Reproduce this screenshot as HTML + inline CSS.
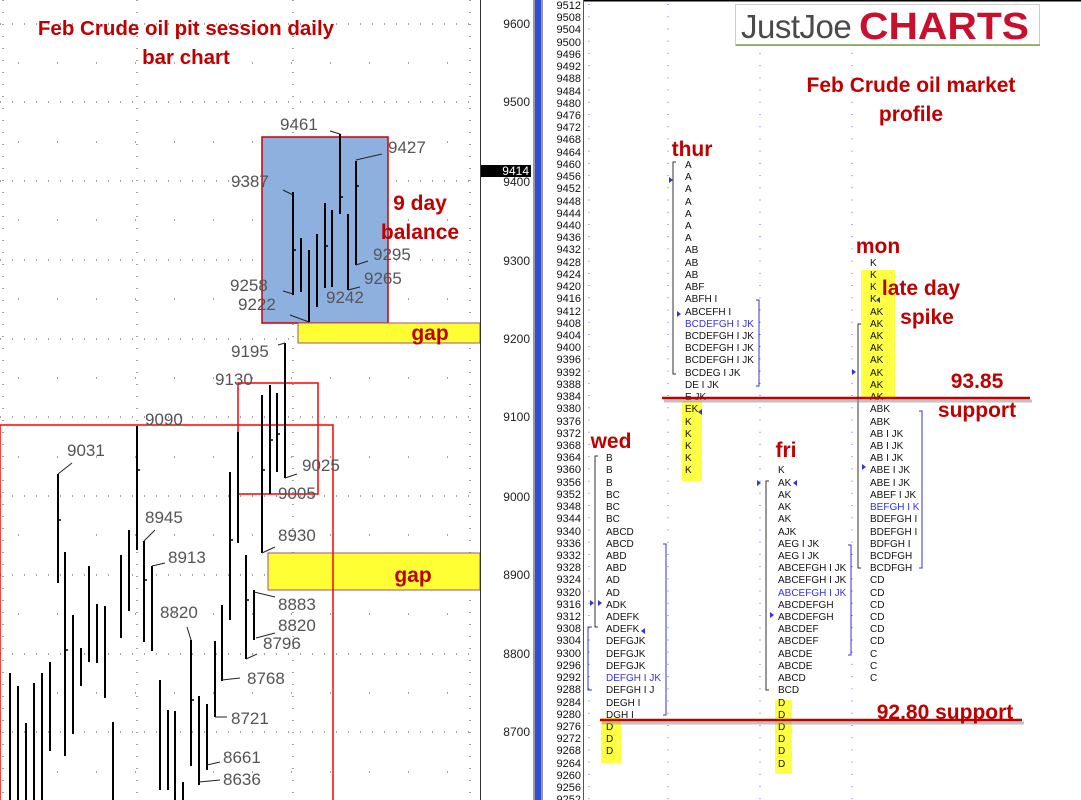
<!DOCTYPE html>
<html><head><meta charset="utf-8"><style>
html,body{margin:0;padding:0;background:#fff;}
svg{display:block;}
.t{font-family:"Liberation Sans",sans-serif;}
.pl{font-family:"Liberation Sans",sans-serif;font-size:11px;fill:#111;text-anchor:end;}
.pr{font-family:"Liberation Sans",sans-serif;font-size:10px;fill:#111;}
.bl{fill:#3333dd;}
.lb{font-family:"Liberation Sans",sans-serif;font-size:17px;fill:#555;}
.rd{font-family:"Liberation Sans",sans-serif;font-weight:bold;fill:#c00000;}
.ax{font-family:"Liberation Sans",sans-serif;font-size:12px;fill:#222;text-anchor:end;}
</style></head><body>
<svg width="1081" height="800" viewBox="0 0 1081 800" xmlns="http://www.w3.org/2000/svg">
<rect width="1081" height="800" fill="#fff"/>
<g stroke="#444" stroke-width="1" stroke-dasharray="1,11">
<line x1="0" y1="24" x2="478" y2="24"/><line x1="0" y1="102" x2="478" y2="102"/><line x1="0" y1="181" x2="478" y2="181"/><line x1="0" y1="260" x2="478" y2="260"/><line x1="0" y1="339" x2="478" y2="339"/><line x1="0" y1="417" x2="478" y2="417"/><line x1="0" y1="496" x2="478" y2="496"/><line x1="0" y1="575" x2="478" y2="575"/><line x1="0" y1="654" x2="478" y2="654"/><line x1="0" y1="732" x2="478" y2="732"/>
<line x1="3" y1="0" x2="3" y2="800"/><line x1="137" y1="0" x2="137" y2="800"/><line x1="293" y1="0" x2="293" y2="800"/><line x1="470" y1="0" x2="470" y2="800"/>
</g>
<g stroke="#444" stroke-width="1" stroke-dasharray="1,38">
<line x1="18" y1="63" x2="478" y2="63"/><line x1="18" y1="142" x2="478" y2="142"/><line x1="18" y1="220" x2="478" y2="220"/><line x1="18" y1="299" x2="478" y2="299"/><line x1="18" y1="378" x2="478" y2="378"/><line x1="18" y1="457" x2="478" y2="457"/><line x1="18" y1="535" x2="478" y2="535"/><line x1="18" y1="614" x2="478" y2="614"/><line x1="18" y1="693" x2="478" y2="693"/><line x1="18" y1="772" x2="478" y2="772"/>
</g>
<rect x="262" y="137" width="126" height="186" fill="#8eb0df" stroke="#c00" stroke-width="1.5"/>
<rect x="298" y="323" width="182" height="20" fill="#ffff33" stroke="#a05080" stroke-width="1"/>
<rect x="268" y="553" width="212" height="37" fill="#ffff33" stroke="#a05080" stroke-width="1"/>
<rect x="0" y="425" width="333" height="380" fill="none" stroke="#f00" stroke-width="1.5"/>
<rect x="238" y="383" width="80" height="111" fill="none" stroke="#f00" stroke-width="1.5"/>
<g stroke="#000" stroke-width="2">
<line x1="10" y1="673" x2="10" y2="800"/><line x1="18" y1="686" x2="18" y2="800"/><line x1="26" y1="723" x2="26" y2="800"/><line x1="34" y1="683" x2="34" y2="800"/><line x1="42" y1="673" x2="42" y2="800"/><line x1="50" y1="662" x2="50" y2="751"/><line x1="58" y1="474" x2="58" y2="583"/><line x1="65" y1="552" x2="65" y2="756"/><line x1="73" y1="615" x2="73" y2="734"/><line x1="81" y1="648" x2="81" y2="686"/><line x1="89" y1="566" x2="89" y2="662"/><line x1="97" y1="604" x2="97" y2="663"/><line x1="105" y1="606" x2="105" y2="698"/><line x1="113" y1="722" x2="113" y2="800"/><line x1="121" y1="555" x2="121" y2="638"/><line x1="129" y1="530" x2="129" y2="611"/><line x1="137" y1="426" x2="137" y2="550"/><line x1="144" y1="541" x2="144" y2="642"/><line x1="152" y1="566" x2="152" y2="651"/><line x1="160" y1="680" x2="160" y2="790"/><line x1="168" y1="710" x2="168" y2="790"/><line x1="175" y1="711" x2="175" y2="800"/><line x1="183" y1="782" x2="183" y2="800"/><line x1="191" y1="640" x2="191" y2="766"/><line x1="199" y1="696" x2="199" y2="785"/><line x1="207" y1="704" x2="207" y2="770"/><line x1="215" y1="641" x2="215" y2="717"/><line x1="222" y1="605" x2="222" y2="681"/><line x1="230" y1="472" x2="230" y2="620"/><line x1="238" y1="432" x2="238" y2="543"/><line x1="246" y1="555" x2="246" y2="659"/><line x1="254" y1="590" x2="254" y2="640"/><line x1="262" y1="395" x2="262" y2="553"/><line x1="270" y1="385" x2="270" y2="494"/><line x1="277" y1="393" x2="277" y2="472"/><line x1="285" y1="343" x2="285" y2="478"/>
<line x1="293" y1="192" x2="293" y2="295"/><line x1="301" y1="238" x2="301" y2="292"/><line x1="309" y1="250" x2="309" y2="322"/><line x1="317" y1="234" x2="317" y2="307"/><line x1="325" y1="203" x2="325" y2="288"/><line x1="332" y1="210" x2="332" y2="287"/><line x1="340" y1="134" x2="340" y2="214"/><line x1="348" y1="214" x2="348" y2="290"/><line x1="356" y1="161" x2="356" y2="265"/>
</g>
<g stroke="#000" stroke-width="1.5">
<line x1="58" y1="520" x2="61" y2="520"/><line x1="65" y1="650" x2="68" y2="650"/><line x1="137" y1="470" x2="140" y2="470"/><line x1="144" y1="580" x2="147" y2="580"/><line x1="191" y1="700" x2="194" y2="700"/><line x1="230" y1="540" x2="233" y2="540"/><line x1="246" y1="600" x2="249" y2="600"/><line x1="262" y1="470" x2="265" y2="470"/><line x1="270" y1="440" x2="273" y2="440"/><line x1="277" y1="434" x2="280" y2="434"/><line x1="293" y1="250" x2="296" y2="250"/><line x1="325" y1="246" x2="328" y2="246"/><line x1="340" y1="197" x2="343" y2="197"/><line x1="356" y1="186" x2="359" y2="186"/>
</g>
<g stroke="#222" stroke-width="1" fill="none">
<line x1="58" y1="474" x2="72" y2="463"/><line x1="144" y1="541" x2="155" y2="530"/><line x1="152" y1="566" x2="165" y2="563"/><line x1="191" y1="640" x2="187" y2="627"/><line x1="215" y1="717" x2="227" y2="717"/><line x1="222" y1="680" x2="240" y2="678"/><line x1="207" y1="765" x2="220" y2="762"/><line x1="199" y1="782" x2="220" y2="780"/><line x1="246" y1="659" x2="257" y2="654"/><line x1="254" y1="592" x2="275" y2="597"/><line x1="256" y1="638" x2="275" y2="633"/><line x1="262" y1="553" x2="275" y2="547"/><line x1="285" y1="478" x2="297" y2="474"/><line x1="293" y1="195" x2="283" y2="190"/><line x1="293" y1="294" x2="283" y2="291"/><line x1="309" y1="322" x2="290" y2="315"/><line x1="340" y1="134" x2="330" y2="131"/><line x1="356" y1="160" x2="382" y2="154"/><line x1="356" y1="265" x2="368" y2="261"/><line x1="348" y1="290" x2="360" y2="287"/><line x1="285" y1="343" x2="278" y2="345"/>
</g>
<g class="lb">
<text x="280" y="130">9461</text><text x="388" y="153">9427</text><text x="231" y="187">9387</text><text x="230" y="291">9258</text><text x="238" y="310">9222</text><text x="373" y="260">9295</text><text x="364" y="284">9265</text><text x="326" y="303">9242</text><text x="231" y="357">9195</text><text x="215" y="385">9130</text><text x="145" y="425">9090</text><text x="67" y="456">9031</text><text x="302" y="471">9025</text><text x="278" y="499">9005</text><text x="145" y="523">8945</text><text x="168" y="563">8913</text><text x="278" y="541">8930</text><text x="278" y="610">8883</text><text x="278" y="631">8820</text><text x="263" y="649">8796</text><text x="160" y="618">8820</text><text x="247" y="684">8768</text><text x="231" y="724">8721</text><text x="223" y="763">8661</text><text x="223" y="785">8636</text>
</g>
<text class="rd" x="186" y="35" font-size="20.5" text-anchor="middle">Feb Crude oil pit session daily</text>
<text class="rd" x="186" y="64" font-size="20.5" text-anchor="middle">bar chart</text>
<text class="rd" x="420" y="210" font-size="21" text-anchor="middle">9 day</text>
<text class="rd" x="420" y="239" font-size="21" text-anchor="middle">balance</text>
<text class="rd" x="430" y="340" font-size="21" text-anchor="middle">gap</text>
<text class="rd" x="413" y="582" font-size="21" text-anchor="middle">gap</text>
<line x1="480.5" y1="0" x2="480.5" y2="800" stroke="#333" stroke-width="1"/>
<g class="ax"><text x="530" y="28">9600</text><text x="530" y="106">9500</text><text x="530" y="186">9400</text><text x="530" y="265">9300</text><text x="530" y="343">9200</text><text x="530" y="421">9100</text><text x="530" y="501">9000</text><text x="530" y="579">8900</text><text x="530" y="658">8800</text><text x="530" y="736">8700</text></g>
<rect x="481" y="165" width="50" height="12" fill="#000"/>
<text x="529" y="175" class="ax" style="fill:#fff">9414</text>
<rect x="533" y="0" width="10" height="800" fill="#999"/>
<rect x="535" y="0" width="6" height="800" fill="#2b4fd8"/>
<line x1="583.5" y1="0" x2="583.5" y2="800" stroke="#555" stroke-width="1"/>
<line x1="584" y1="0.5" x2="1081" y2="0.5" stroke="#000" stroke-width="2"/>
<g stroke="#5566ee" stroke-width="1" stroke-dasharray="1,11.22" stroke-dashoffset="-4">
<line x1="589" y1="0" x2="589" y2="800"/><line x1="668" y1="0" x2="668" y2="800"/><line x1="760" y1="0" x2="760" y2="800"/><line x1="852" y1="0" x2="852" y2="800"/>
</g>
<g class="pl">
<text x="581" y="9">9512</text><text x="581" y="21">9508</text><text x="581" y="33">9504</text><text x="581" y="46">9500</text><text x="581" y="58">9496</text><text x="581" y="70">9492</text><text x="581" y="82">9488</text><text x="581" y="95">9484</text><text x="581" y="107">9480</text><text x="581" y="119">9476</text><text x="581" y="131">9472</text><text x="581" y="143">9468</text><text x="581" y="156">9464</text><text x="581" y="168">9460</text><text x="581" y="180">9456</text><text x="581" y="192">9452</text><text x="581" y="205">9448</text><text x="581" y="217">9444</text><text x="581" y="229">9440</text><text x="581" y="241">9436</text><text x="581" y="253">9432</text><text x="581" y="266">9428</text><text x="581" y="278">9424</text><text x="581" y="290">9420</text><text x="581" y="302">9416</text><text x="581" y="315">9412</text><text x="581" y="327">9408</text><text x="581" y="339">9404</text><text x="581" y="351">9400</text><text x="581" y="363">9396</text><text x="581" y="376">9392</text><text x="581" y="388">9388</text><text x="581" y="400">9384</text><text x="581" y="412">9380</text><text x="581" y="425">9376</text><text x="581" y="437">9372</text><text x="581" y="449">9368</text><text x="581" y="461">9364</text><text x="581" y="473">9360</text><text x="581" y="486">9356</text><text x="581" y="498">9352</text><text x="581" y="510">9348</text><text x="581" y="522">9344</text><text x="581" y="535">9340</text><text x="581" y="547">9336</text><text x="581" y="559">9332</text><text x="581" y="571">9328</text><text x="581" y="583">9324</text><text x="581" y="596">9320</text><text x="581" y="608">9316</text><text x="581" y="620">9312</text><text x="581" y="632">9308</text><text x="581" y="644">9304</text><text x="581" y="657">9300</text><text x="581" y="669">9296</text><text x="581" y="681">9292</text><text x="581" y="693">9288</text><text x="581" y="706">9284</text><text x="581" y="718">9280</text><text x="581" y="730">9276</text><text x="581" y="742">9272</text><text x="581" y="754">9268</text><text x="581" y="767">9264</text><text x="581" y="779">9260</text><text x="581" y="791">9256</text><text x="581" y="803">9252</text>
</g>
<rect x="682" y="401" width="20" height="80" fill="#ffff44"/>
<rect x="861" y="270" width="34" height="128" fill="#ffff44"/>
<rect x="601" y="718" width="20" height="45" fill="#ffff44"/>
<rect x="775" y="700" width="17" height="73" fill="#ffff44"/>
<g fill="none" stroke-width="1">
<path d="M676 162 H673 V374 H676" stroke="#333"/>
<path d="M756 300 H759 V386 H756" stroke="#33d"/>
<path d="M598 456 H595 V627 H598" stroke="#333"/>
<path d="M592 627 H588 V690 H592" stroke="#33d"/>
<path d="M663 544 H666 V715 H663" stroke="#33d"/>
<path d="M769 481 H766 V690 H769" stroke="#333"/>
<path d="M848 545 H851 V655 H848" stroke="#33d"/>
<path d="M861 324 H858 V568 H861" stroke="#333"/>
<path d="M919 411 H922 V568 H919" stroke="#33d"/>
</g>
<g class="bl">
<polygon points="669,177 673,180 669,183"/><polygon points="677,311 681,314 677,317"/><polygon points="590,600 594,603 590,606"/><polygon points="598,600 602,603 598,606"/><polygon points="757,480 761,483 757,486"/><polygon points="770,612 774,615 770,618"/><polygon points="852,369 856,372 852,375"/><polygon points="862,464 866,467 862,470"/><polygon points="702,409 698,412 702,415"/><polygon points="645,628 641,631 645,634"/><polygon points="797,480 793,483 797,486"/><polygon points="880,297 876,300 880,303"/>
</g>
<g class="pr">
<text x="685" y="168">A</text><text x="685" y="180">A</text><text x="685" y="192">A</text><text x="685" y="205">A</text><text x="685" y="217">A</text><text x="685" y="229">A</text><text x="685" y="241">A</text><text x="685" y="253">AB</text><text x="685" y="266">AB</text><text x="685" y="278">AB</text><text x="685" y="290">ABF</text><text x="685" y="302">ABFH I</text><text x="685" y="315">ABCEFH I</text><text x="685" y="327" class="bl">BCDEFGH I JK</text><text x="685" y="339">BCDEFGH I JK</text><text x="685" y="351">BCDEFGH I JK</text><text x="685" y="363">BCDEFGH I JK</text><text x="685" y="376">BCDEG I JK</text><text x="685" y="388">DE I JK</text><text x="685" y="400">E JK</text><text x="685" y="412">EK</text><text x="685" y="425">K</text><text x="685" y="437">K</text><text x="685" y="449">K</text><text x="685" y="461">K</text><text x="685" y="473">K</text>
</g>
<g class="pr">
<text x="606" y="461">B</text><text x="606" y="473">B</text><text x="606" y="486">B</text><text x="606" y="498">BC</text><text x="606" y="510">BC</text><text x="606" y="522">BC</text><text x="606" y="535">ABCD</text><text x="606" y="547">ABCD</text><text x="606" y="559">ABD</text><text x="606" y="571">ABD</text><text x="606" y="583">AD</text><text x="606" y="596">AD</text><text x="606" y="608">ADK</text><text x="606" y="620">ADEFK</text><text x="606" y="632">ADEFK</text><text x="606" y="644">DEFGJK</text><text x="606" y="657">DEFGJK</text><text x="606" y="669">DEFGJK</text><text x="606" y="681" class="bl">DEFGH I JK</text><text x="606" y="693">DEFGH I J</text><text x="606" y="706">DEGH I</text><text x="606" y="718">DGH I</text><text x="606" y="730">D</text><text x="606" y="742">D</text><text x="606" y="754">D</text>
</g>
<g class="pr">
<text x="778" y="473">K</text><text x="778" y="486">AK</text><text x="778" y="498">AK</text><text x="778" y="510">AK</text><text x="778" y="522">AK</text><text x="778" y="535">AJK</text><text x="778" y="547">AEG I JK</text><text x="778" y="559">AEG I JK</text><text x="778" y="571">ABCEFGH I JK</text><text x="778" y="583">ABCEFGH I JK</text><text x="778" y="596" class="bl">ABCEFGH I JK</text><text x="778" y="608">ABCDEFGH</text><text x="778" y="620">ABCDEFGH</text><text x="778" y="632">ABCDEF</text><text x="778" y="644">ABCDEF</text><text x="778" y="657">ABCDE</text><text x="778" y="669">ABCDE</text><text x="778" y="681">ABCD</text><text x="778" y="693">BCD</text><text x="778" y="706">D</text><text x="778" y="718">D</text><text x="778" y="730">D</text><text x="778" y="742">D</text><text x="778" y="754">D</text><text x="778" y="767">D</text>
</g>
<g class="pr">
<text x="870" y="266">K</text><text x="870" y="278">K</text><text x="870" y="290">K</text><text x="870" y="302">K</text><text x="870" y="315">AK</text><text x="870" y="327">AK</text><text x="870" y="339">AK</text><text x="870" y="351">AK</text><text x="870" y="363">AK</text><text x="870" y="376">AK</text><text x="870" y="388">AK</text><text x="870" y="400">AK</text><text x="870" y="412">ABK</text><text x="870" y="425">ABK</text><text x="870" y="437">AB I JK</text><text x="870" y="449">AB I JK</text><text x="870" y="461">AB I JK</text><text x="870" y="473">ABE I JK</text><text x="870" y="486">ABE I JK</text><text x="870" y="498">ABEF I JK</text><text x="870" y="510" class="bl">BEFGH I K</text><text x="870" y="522">BDEFGH I</text><text x="870" y="535">BDEFGH I</text><text x="870" y="547">BDFGH I</text><text x="870" y="559">BCDFGH</text><text x="870" y="571">BCDFGH</text><text x="870" y="583">CD</text><text x="870" y="596">CD</text><text x="870" y="608">CD</text><text x="870" y="620">CD</text><text x="870" y="632">CD</text><text x="870" y="644">CD</text><text x="870" y="657">C</text><text x="870" y="669">C</text><text x="870" y="681">C</text>
</g>
<line x1="664" y1="401" x2="1032" y2="401" stroke="#999" stroke-width="3" opacity="0.6"/>
<line x1="662" y1="398" x2="1030" y2="398" stroke="#c00000" stroke-width="2.5"/>
<line x1="602" y1="723" x2="1024" y2="723" stroke="#999" stroke-width="3" opacity="0.6"/>
<line x1="600" y1="720" x2="1022" y2="720" stroke="#c00000" stroke-width="2.5"/>
<text class="rd" x="977" y="388" font-size="21" text-anchor="middle">93.85</text>
<text class="rd" x="977" y="417" font-size="21" text-anchor="middle">support</text>
<text class="rd" x="945" y="719" font-size="21" text-anchor="middle">92.80 support</text>
<text class="rd" x="611" y="448" font-size="21" text-anchor="middle">wed</text>
<text class="rd" x="692" y="156" font-size="21" text-anchor="middle">thur</text>
<text class="rd" x="786" y="457" font-size="21" text-anchor="middle">fri</text>
<text class="rd" x="878" y="253" font-size="21" text-anchor="middle">mon</text>
<text class="rd" x="921" y="295" font-size="21" text-anchor="middle">late day</text>
<text class="rd" x="927" y="324" font-size="21" text-anchor="middle">spike</text>
<text class="rd" x="911" y="92" font-size="21" text-anchor="middle">Feb Crude oil market</text>
<text class="rd" x="911" y="121" font-size="21" text-anchor="middle">profile</text>
<rect x="735.5" y="4.5" width="304" height="41" fill="#fff" stroke="#ccc" stroke-width="1"/>
<line x1="736" y1="45" x2="1040" y2="45" stroke="#7aa050" stroke-width="1.5"/>
<text x="741" y="38" class="t" font-size="33" fill="#4a4a4a" letter-spacing="-0.5">JustJoe</text>
<text x="859" y="39" class="t" font-size="38" font-weight="bold" fill="#c8102e" textLength="170" lengthAdjust="spacingAndGlyphs">CHARTS</text>
</svg>
</body></html>
